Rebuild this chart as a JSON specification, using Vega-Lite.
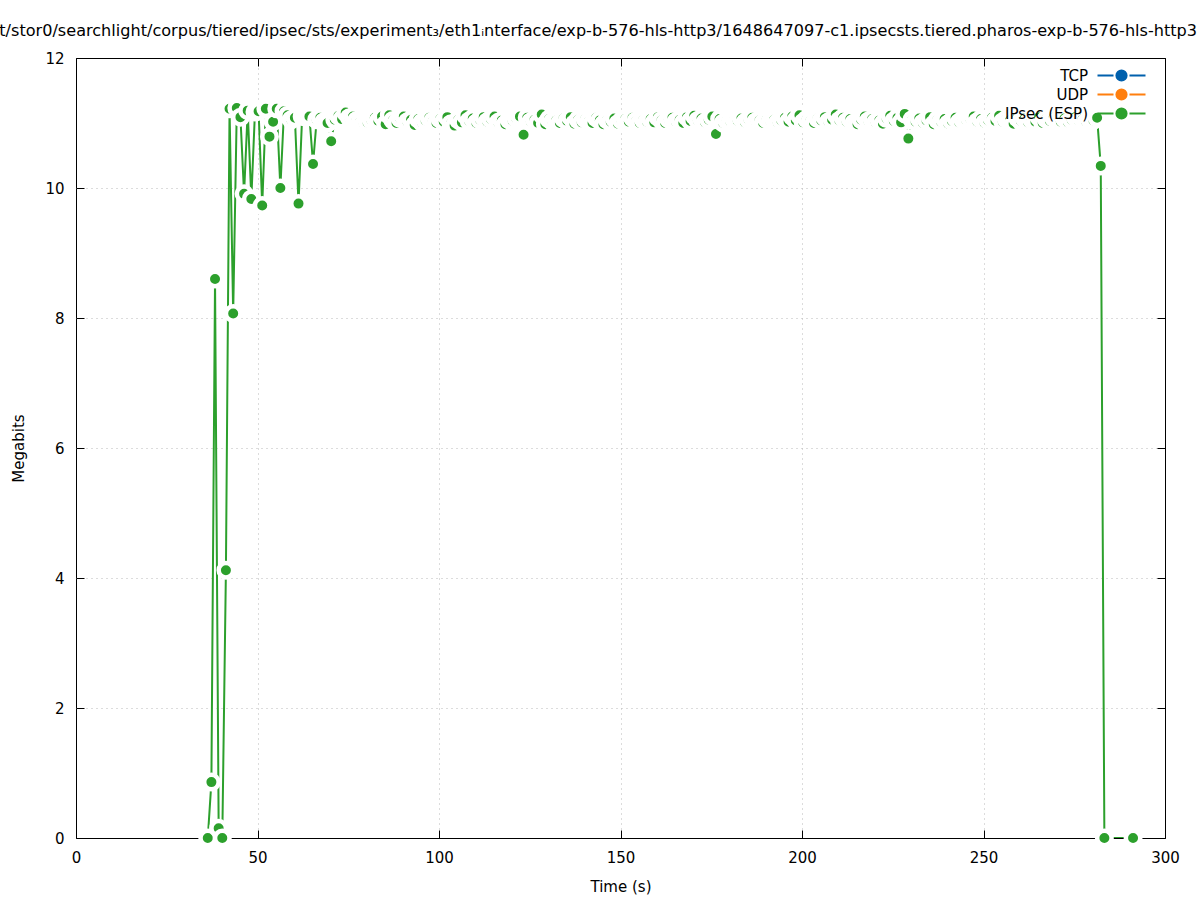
{
  "$schema": "https://vega.github.io/schema/vega-lite/v6.json",
  "width": 1089,
  "height": 780,
  "autosize": {"type": "none"},
  "padding": {"left": 76, "top": 58, "right": 32, "bottom": 62},
  "background": "white",
  "title": {
    "text": "/mnt/stor0/searchlight/corpus/tiered/ipsec/sts/experiment₃/eth1ᵢnterface/exp-b-576-hls-http3/1648647097-c1.ipsecsts.tiered.pharos-exp-b-576-hls-http3",
    "anchor": "start",
    "frame": "group",
    "dx": -108,
    "offset": 12,
    "fontSize": 16.1,
    "fontWeight": "normal",
    "font": "DejaVu Sans",
    "color": "black",
    "limit": 0
  },
  "config": {
    "font": "DejaVu Sans",
    "view": {"stroke": "black", "strokeWidth": 1},
    "axis": {
      "labelFont": "DejaVu Sans",
      "labelFontSize": 15,
      "labelColor": "black",
      "titleFont": "DejaVu Sans",
      "titleFontSize": 15,
      "titleFontWeight": "normal",
      "titleColor": "black",
      "domain": false,
      "tickColor": "black",
      "tickSize": -8,
      "tickWidth": 1,
      "gridColor": "#b8b8b8",
      "gridDash": [1, 4],
      "gridWidth": 1
    },
    "legend": {
      "orient": "none",
      "legendX": 1038,
      "legendY": 10,
      "padding": 0,
      "labelFont": "DejaVu Sans",
      "labelFontSize": 15,
      "labelColor": "black",
      "labelAlign": "right",
      "labelOffset": -41,
      "symbolSize": 144,
      "symbolStrokeWidth": 2,
      "rowPadding": 0,
      "symbolType": "M-4,0H-1.33M1.33,0H4M-0.85,0A0.85,0.85 0 1,0 0.85,0A0.85,0.85 0 1,0 -0.85,0Z"
    }
  },
  "data": {
    "values": [
      {"t": 36.3, "mbit": 0, "proto": "IPsec (ESP)"},
      {"t": 37.3, "mbit": 0.86, "proto": "IPsec (ESP)"},
      {"t": 38.3, "mbit": 8.6, "proto": "IPsec (ESP)"},
      {"t": 39.3, "mbit": 0.15, "proto": "IPsec (ESP)"},
      {"t": 40.3, "mbit": 0, "proto": "IPsec (ESP)"},
      {"t": 41.3, "mbit": 4.12, "proto": "IPsec (ESP)"},
      {"t": 42.3, "mbit": 11.22, "proto": "IPsec (ESP)"},
      {"t": 43.3, "mbit": 8.07, "proto": "IPsec (ESP)"},
      {"t": 44.3, "mbit": 11.23, "proto": "IPsec (ESP)"},
      {"t": 45.3, "mbit": 11.09, "proto": "IPsec (ESP)"},
      {"t": 46.3, "mbit": 9.91, "proto": "IPsec (ESP)"},
      {"t": 47.3, "mbit": 11.19, "proto": "IPsec (ESP)"},
      {"t": 48.3, "mbit": 9.83, "proto": "IPsec (ESP)"},
      {"t": 49.3, "mbit": 11.17, "proto": "IPsec (ESP)"},
      {"t": 50.3, "mbit": 11.18, "proto": "IPsec (ESP)"},
      {"t": 51.3, "mbit": 9.73, "proto": "IPsec (ESP)"},
      {"t": 52.3, "mbit": 11.22, "proto": "IPsec (ESP)"},
      {"t": 53.3, "mbit": 10.79, "proto": "IPsec (ESP)"},
      {"t": 54.3, "mbit": 11.02, "proto": "IPsec (ESP)"},
      {"t": 55.3, "mbit": 11.22, "proto": "IPsec (ESP)"},
      {"t": 56.3, "mbit": 10.0, "proto": "IPsec (ESP)"},
      {"t": 57.3, "mbit": 11.18, "proto": "IPsec (ESP)"},
      {"t": 58.3, "mbit": 11.12, "proto": "IPsec (ESP)"},
      {"t": 59.3, "mbit": 11.05, "proto": "IPsec (ESP)"},
      {"t": 60.3, "mbit": 11.08, "proto": "IPsec (ESP)"},
      {"t": 61.3, "mbit": 9.76, "proto": "IPsec (ESP)"},
      {"t": 62.3, "mbit": 11.1, "proto": "IPsec (ESP)"},
      {"t": 63.3, "mbit": 11.09, "proto": "IPsec (ESP)"},
      {"t": 64.3, "mbit": 11.1, "proto": "IPsec (ESP)"},
      {"t": 65.3, "mbit": 10.37, "proto": "IPsec (ESP)"},
      {"t": 66.3, "mbit": 11.05, "proto": "IPsec (ESP)"},
      {"t": 67.3, "mbit": 11.08, "proto": "IPsec (ESP)"},
      {"t": 68.3, "mbit": 11.02, "proto": "IPsec (ESP)"},
      {"t": 69.3, "mbit": 11.0, "proto": "IPsec (ESP)"},
      {"t": 70.3, "mbit": 10.72, "proto": "IPsec (ESP)"},
      {"t": 71.3, "mbit": 11.05, "proto": "IPsec (ESP)"},
      {"t": 72.3, "mbit": 11.11, "proto": "IPsec (ESP)"},
      {"t": 73.3, "mbit": 11.06, "proto": "IPsec (ESP)"},
      {"t": 74.3, "mbit": 11.16, "proto": "IPsec (ESP)"},
      {"t": 75.3, "mbit": 11.08, "proto": "IPsec (ESP)"},
      {"t": 76.3, "mbit": 11.1, "proto": "IPsec (ESP)"},
      {"t": 77.3, "mbit": 11.04, "proto": "IPsec (ESP)"},
      {"t": 78.3, "mbit": 11.02, "proto": "IPsec (ESP)"},
      {"t": 79.3, "mbit": 10.99, "proto": "IPsec (ESP)"},
      {"t": 80.3, "mbit": 11.01, "proto": "IPsec (ESP)"},
      {"t": 81.3, "mbit": 11.05, "proto": "IPsec (ESP)"},
      {"t": 82.3, "mbit": 11.08, "proto": "IPsec (ESP)"},
      {"t": 83.3, "mbit": 11.03, "proto": "IPsec (ESP)"},
      {"t": 84.3, "mbit": 11.1, "proto": "IPsec (ESP)"},
      {"t": 85.3, "mbit": 10.98, "proto": "IPsec (ESP)"},
      {"t": 86.3, "mbit": 11.12, "proto": "IPsec (ESP)"},
      {"t": 87.3, "mbit": 11.04, "proto": "IPsec (ESP)"},
      {"t": 88.3, "mbit": 11.0, "proto": "IPsec (ESP)"},
      {"t": 89.3, "mbit": 11.07, "proto": "IPsec (ESP)"},
      {"t": 90.3, "mbit": 11.1, "proto": "IPsec (ESP)"},
      {"t": 91.3, "mbit": 11.02, "proto": "IPsec (ESP)"},
      {"t": 92.3, "mbit": 11.05, "proto": "IPsec (ESP)"},
      {"t": 93.3, "mbit": 10.97, "proto": "IPsec (ESP)"},
      {"t": 94.3, "mbit": 11.06, "proto": "IPsec (ESP)"},
      {"t": 95.3, "mbit": 11.01, "proto": "IPsec (ESP)"},
      {"t": 96.3, "mbit": 11.04, "proto": "IPsec (ESP)"},
      {"t": 97.3, "mbit": 11.08, "proto": "IPsec (ESP)"},
      {"t": 98.3, "mbit": 11.03, "proto": "IPsec (ESP)"},
      {"t": 99.3, "mbit": 11.0, "proto": "IPsec (ESP)"},
      {"t": 100.3, "mbit": 11.06, "proto": "IPsec (ESP)"},
      {"t": 101.3, "mbit": 11.02, "proto": "IPsec (ESP)"},
      {"t": 102.3, "mbit": 11.09, "proto": "IPsec (ESP)"},
      {"t": 103.3, "mbit": 10.99, "proto": "IPsec (ESP)"},
      {"t": 104.3, "mbit": 10.96, "proto": "IPsec (ESP)"},
      {"t": 105.3, "mbit": 11.05, "proto": "IPsec (ESP)"},
      {"t": 106.3, "mbit": 11.01, "proto": "IPsec (ESP)"},
      {"t": 107.3, "mbit": 11.12, "proto": "IPsec (ESP)"},
      {"t": 108.3, "mbit": 11.03, "proto": "IPsec (ESP)"},
      {"t": 109.3, "mbit": 11.07, "proto": "IPsec (ESP)"},
      {"t": 110.3, "mbit": 11.0, "proto": "IPsec (ESP)"},
      {"t": 111.3, "mbit": 11.05, "proto": "IPsec (ESP)"},
      {"t": 112.3, "mbit": 11.09, "proto": "IPsec (ESP)"},
      {"t": 113.3, "mbit": 11.02, "proto": "IPsec (ESP)"},
      {"t": 114.3, "mbit": 11.06, "proto": "IPsec (ESP)"},
      {"t": 115.3, "mbit": 11.1, "proto": "IPsec (ESP)"},
      {"t": 116.3, "mbit": 11.01, "proto": "IPsec (ESP)"},
      {"t": 117.3, "mbit": 11.04, "proto": "IPsec (ESP)"},
      {"t": 118.3, "mbit": 10.98, "proto": "IPsec (ESP)"},
      {"t": 119.3, "mbit": 11.05, "proto": "IPsec (ESP)"},
      {"t": 120.3, "mbit": 11.03, "proto": "IPsec (ESP)"},
      {"t": 121.3, "mbit": 11.07, "proto": "IPsec (ESP)"},
      {"t": 122.3, "mbit": 11.1, "proto": "IPsec (ESP)"},
      {"t": 123.3, "mbit": 10.82, "proto": "IPsec (ESP)"},
      {"t": 124.3, "mbit": 11.08, "proto": "IPsec (ESP)"},
      {"t": 125.3, "mbit": 11.02, "proto": "IPsec (ESP)"},
      {"t": 126.3, "mbit": 11.05, "proto": "IPsec (ESP)"},
      {"t": 127.3, "mbit": 11.0, "proto": "IPsec (ESP)"},
      {"t": 128.3, "mbit": 11.13, "proto": "IPsec (ESP)"},
      {"t": 129.3, "mbit": 10.98, "proto": "IPsec (ESP)"},
      {"t": 130.3, "mbit": 11.06, "proto": "IPsec (ESP)"},
      {"t": 131.3, "mbit": 11.02, "proto": "IPsec (ESP)"},
      {"t": 132.3, "mbit": 11.04, "proto": "IPsec (ESP)"},
      {"t": 133.3, "mbit": 11.0, "proto": "IPsec (ESP)"},
      {"t": 134.3, "mbit": 11.07, "proto": "IPsec (ESP)"},
      {"t": 135.3, "mbit": 11.03, "proto": "IPsec (ESP)"},
      {"t": 136.3, "mbit": 11.09, "proto": "IPsec (ESP)"},
      {"t": 137.3, "mbit": 10.99, "proto": "IPsec (ESP)"},
      {"t": 138.3, "mbit": 11.05, "proto": "IPsec (ESP)"},
      {"t": 139.3, "mbit": 11.01, "proto": "IPsec (ESP)"},
      {"t": 140.3, "mbit": 11.06, "proto": "IPsec (ESP)"},
      {"t": 141.3, "mbit": 11.03, "proto": "IPsec (ESP)"},
      {"t": 142.3, "mbit": 11.0, "proto": "IPsec (ESP)"},
      {"t": 143.3, "mbit": 11.08, "proto": "IPsec (ESP)"},
      {"t": 144.3, "mbit": 11.04, "proto": "IPsec (ESP)"},
      {"t": 145.3, "mbit": 10.98, "proto": "IPsec (ESP)"},
      {"t": 146.3, "mbit": 11.05, "proto": "IPsec (ESP)"},
      {"t": 147.3, "mbit": 11.02, "proto": "IPsec (ESP)"},
      {"t": 148.3, "mbit": 11.07, "proto": "IPsec (ESP)"},
      {"t": 149.3, "mbit": 10.99, "proto": "IPsec (ESP)"},
      {"t": 150.3, "mbit": 11.04, "proto": "IPsec (ESP)"},
      {"t": 151.3, "mbit": 11.06, "proto": "IPsec (ESP)"},
      {"t": 152.3, "mbit": 11.02, "proto": "IPsec (ESP)"},
      {"t": 153.3, "mbit": 11.08, "proto": "IPsec (ESP)"},
      {"t": 154.3, "mbit": 11.03, "proto": "IPsec (ESP)"},
      {"t": 155.3, "mbit": 11.0, "proto": "IPsec (ESP)"},
      {"t": 156.3, "mbit": 11.05, "proto": "IPsec (ESP)"},
      {"t": 157.3, "mbit": 11.02, "proto": "IPsec (ESP)"},
      {"t": 158.3, "mbit": 11.06, "proto": "IPsec (ESP)"},
      {"t": 159.3, "mbit": 11.01, "proto": "IPsec (ESP)"},
      {"t": 160.3, "mbit": 11.09, "proto": "IPsec (ESP)"},
      {"t": 161.3, "mbit": 11.04, "proto": "IPsec (ESP)"},
      {"t": 162.3, "mbit": 11.0, "proto": "IPsec (ESP)"},
      {"t": 163.3, "mbit": 11.06, "proto": "IPsec (ESP)"},
      {"t": 164.3, "mbit": 11.08, "proto": "IPsec (ESP)"},
      {"t": 165.3, "mbit": 11.02, "proto": "IPsec (ESP)"},
      {"t": 166.3, "mbit": 11.05, "proto": "IPsec (ESP)"},
      {"t": 167.3, "mbit": 11.0, "proto": "IPsec (ESP)"},
      {"t": 168.3, "mbit": 11.09, "proto": "IPsec (ESP)"},
      {"t": 169.3, "mbit": 11.03, "proto": "IPsec (ESP)"},
      {"t": 170.3, "mbit": 11.11, "proto": "IPsec (ESP)"},
      {"t": 171.3, "mbit": 11.04, "proto": "IPsec (ESP)"},
      {"t": 172.3, "mbit": 11.07, "proto": "IPsec (ESP)"},
      {"t": 173.3, "mbit": 11.01, "proto": "IPsec (ESP)"},
      {"t": 174.3, "mbit": 11.05, "proto": "IPsec (ESP)"},
      {"t": 175.3, "mbit": 11.1, "proto": "IPsec (ESP)"},
      {"t": 176.3, "mbit": 10.83, "proto": "IPsec (ESP)"},
      {"t": 177.3, "mbit": 11.06, "proto": "IPsec (ESP)"},
      {"t": 178.3, "mbit": 11.0, "proto": "IPsec (ESP)"},
      {"t": 179.3, "mbit": 11.04, "proto": "IPsec (ESP)"},
      {"t": 180.3, "mbit": 11.02, "proto": "IPsec (ESP)"},
      {"t": 181.3, "mbit": 11.05, "proto": "IPsec (ESP)"},
      {"t": 182.3, "mbit": 11.03, "proto": "IPsec (ESP)"},
      {"t": 183.3, "mbit": 11.07, "proto": "IPsec (ESP)"},
      {"t": 184.3, "mbit": 11.01, "proto": "IPsec (ESP)"},
      {"t": 185.3, "mbit": 11.05, "proto": "IPsec (ESP)"},
      {"t": 186.3, "mbit": 11.08, "proto": "IPsec (ESP)"},
      {"t": 187.3, "mbit": 11.02, "proto": "IPsec (ESP)"},
      {"t": 188.3, "mbit": 11.04, "proto": "IPsec (ESP)"},
      {"t": 189.3, "mbit": 11.0, "proto": "IPsec (ESP)"},
      {"t": 190.3, "mbit": 11.06, "proto": "IPsec (ESP)"},
      {"t": 191.3, "mbit": 11.03, "proto": "IPsec (ESP)"},
      {"t": 192.3, "mbit": 11.05, "proto": "IPsec (ESP)"},
      {"t": 193.3, "mbit": 11.01, "proto": "IPsec (ESP)"},
      {"t": 194.3, "mbit": 11.04, "proto": "IPsec (ESP)"},
      {"t": 195.3, "mbit": 11.08, "proto": "IPsec (ESP)"},
      {"t": 196.3, "mbit": 11.02, "proto": "IPsec (ESP)"},
      {"t": 197.3, "mbit": 11.1, "proto": "IPsec (ESP)"},
      {"t": 198.3, "mbit": 11.04, "proto": "IPsec (ESP)"},
      {"t": 199.3, "mbit": 11.12, "proto": "IPsec (ESP)"},
      {"t": 200.3, "mbit": 11.01, "proto": "IPsec (ESP)"},
      {"t": 201.3, "mbit": 11.06, "proto": "IPsec (ESP)"},
      {"t": 202.3, "mbit": 11.03, "proto": "IPsec (ESP)"},
      {"t": 203.3, "mbit": 11.0, "proto": "IPsec (ESP)"},
      {"t": 204.3, "mbit": 11.07, "proto": "IPsec (ESP)"},
      {"t": 205.3, "mbit": 11.04, "proto": "IPsec (ESP)"},
      {"t": 206.3, "mbit": 11.09, "proto": "IPsec (ESP)"},
      {"t": 207.3, "mbit": 11.02, "proto": "IPsec (ESP)"},
      {"t": 208.3, "mbit": 11.05, "proto": "IPsec (ESP)"},
      {"t": 209.3, "mbit": 11.13, "proto": "IPsec (ESP)"},
      {"t": 210.3, "mbit": 11.04, "proto": "IPsec (ESP)"},
      {"t": 211.3, "mbit": 11.08, "proto": "IPsec (ESP)"},
      {"t": 212.3, "mbit": 11.02, "proto": "IPsec (ESP)"},
      {"t": 213.3, "mbit": 11.06, "proto": "IPsec (ESP)"},
      {"t": 214.3, "mbit": 11.0, "proto": "IPsec (ESP)"},
      {"t": 215.3, "mbit": 10.98, "proto": "IPsec (ESP)"},
      {"t": 216.3, "mbit": 11.05, "proto": "IPsec (ESP)"},
      {"t": 217.3, "mbit": 11.1, "proto": "IPsec (ESP)"},
      {"t": 218.3, "mbit": 11.03, "proto": "IPsec (ESP)"},
      {"t": 219.3, "mbit": 11.06, "proto": "IPsec (ESP)"},
      {"t": 220.3, "mbit": 11.01, "proto": "IPsec (ESP)"},
      {"t": 221.3, "mbit": 11.04, "proto": "IPsec (ESP)"},
      {"t": 222.3, "mbit": 10.99, "proto": "IPsec (ESP)"},
      {"t": 223.3, "mbit": 11.07, "proto": "IPsec (ESP)"},
      {"t": 224.3, "mbit": 11.11, "proto": "IPsec (ESP)"},
      {"t": 225.3, "mbit": 11.03, "proto": "IPsec (ESP)"},
      {"t": 226.3, "mbit": 11.08, "proto": "IPsec (ESP)"},
      {"t": 227.3, "mbit": 11.01, "proto": "IPsec (ESP)"},
      {"t": 228.3, "mbit": 11.14, "proto": "IPsec (ESP)"},
      {"t": 229.3, "mbit": 10.76, "proto": "IPsec (ESP)"},
      {"t": 230.3, "mbit": 11.05, "proto": "IPsec (ESP)"},
      {"t": 231.3, "mbit": 11.02, "proto": "IPsec (ESP)"},
      {"t": 232.3, "mbit": 11.07, "proto": "IPsec (ESP)"},
      {"t": 233.3, "mbit": 11.0, "proto": "IPsec (ESP)"},
      {"t": 234.3, "mbit": 11.04, "proto": "IPsec (ESP)"},
      {"t": 235.3, "mbit": 11.09, "proto": "IPsec (ESP)"},
      {"t": 236.3, "mbit": 10.98, "proto": "IPsec (ESP)"},
      {"t": 237.3, "mbit": 11.05, "proto": "IPsec (ESP)"},
      {"t": 238.3, "mbit": 11.02, "proto": "IPsec (ESP)"},
      {"t": 239.3, "mbit": 11.06, "proto": "IPsec (ESP)"},
      {"t": 240.3, "mbit": 10.99, "proto": "IPsec (ESP)"},
      {"t": 241.3, "mbit": 11.03, "proto": "IPsec (ESP)"},
      {"t": 242.3, "mbit": 11.08, "proto": "IPsec (ESP)"},
      {"t": 243.3, "mbit": 11.01, "proto": "IPsec (ESP)"},
      {"t": 244.3, "mbit": 11.05, "proto": "IPsec (ESP)"},
      {"t": 245.3, "mbit": 11.04, "proto": "IPsec (ESP)"},
      {"t": 246.3, "mbit": 11.07, "proto": "IPsec (ESP)"},
      {"t": 247.3, "mbit": 11.1, "proto": "IPsec (ESP)"},
      {"t": 248.3, "mbit": 11.02, "proto": "IPsec (ESP)"},
      {"t": 249.3, "mbit": 11.06, "proto": "IPsec (ESP)"},
      {"t": 250.3, "mbit": 11.0, "proto": "IPsec (ESP)"},
      {"t": 251.3, "mbit": 11.04, "proto": "IPsec (ESP)"},
      {"t": 252.3, "mbit": 11.08, "proto": "IPsec (ESP)"},
      {"t": 253.3, "mbit": 11.03, "proto": "IPsec (ESP)"},
      {"t": 254.3, "mbit": 11.11, "proto": "IPsec (ESP)"},
      {"t": 255.3, "mbit": 11.02, "proto": "IPsec (ESP)"},
      {"t": 256.3, "mbit": 11.06, "proto": "IPsec (ESP)"},
      {"t": 257.3, "mbit": 11.04, "proto": "IPsec (ESP)"},
      {"t": 258.3, "mbit": 10.99, "proto": "IPsec (ESP)"},
      {"t": 259.3, "mbit": 11.08, "proto": "IPsec (ESP)"},
      {"t": 260.3, "mbit": 11.03, "proto": "IPsec (ESP)"},
      {"t": 261.3, "mbit": 11.07, "proto": "IPsec (ESP)"},
      {"t": 262.3, "mbit": 11.01, "proto": "IPsec (ESP)"},
      {"t": 263.3, "mbit": 11.05, "proto": "IPsec (ESP)"},
      {"t": 264.3, "mbit": 11.02, "proto": "IPsec (ESP)"},
      {"t": 265.3, "mbit": 11.09, "proto": "IPsec (ESP)"},
      {"t": 266.3, "mbit": 11.0, "proto": "IPsec (ESP)"},
      {"t": 267.3, "mbit": 11.06, "proto": "IPsec (ESP)"},
      {"t": 268.3, "mbit": 11.03, "proto": "IPsec (ESP)"},
      {"t": 269.3, "mbit": 11.08, "proto": "IPsec (ESP)"},
      {"t": 270.3, "mbit": 11.04, "proto": "IPsec (ESP)"},
      {"t": 271.3, "mbit": 11.02, "proto": "IPsec (ESP)"},
      {"t": 272.3, "mbit": 11.07, "proto": "IPsec (ESP)"},
      {"t": 273.3, "mbit": 11.01, "proto": "IPsec (ESP)"},
      {"t": 274.3, "mbit": 11.05, "proto": "IPsec (ESP)"},
      {"t": 275.3, "mbit": 11.09, "proto": "IPsec (ESP)"},
      {"t": 276.3, "mbit": 11.03, "proto": "IPsec (ESP)"},
      {"t": 277.3, "mbit": 11.06, "proto": "IPsec (ESP)"},
      {"t": 278.3, "mbit": 11.02, "proto": "IPsec (ESP)"},
      {"t": 279.3, "mbit": 11.05, "proto": "IPsec (ESP)"},
      {"t": 280.3, "mbit": 11.04, "proto": "IPsec (ESP)"},
      {"t": 281.3, "mbit": 11.08, "proto": "IPsec (ESP)"},
      {"t": 282.3, "mbit": 10.34, "proto": "IPsec (ESP)"},
      {"t": 283.3, "mbit": 0, "proto": "IPsec (ESP)"},
      {"t": 291.2, "mbit": 0, "proto": "IPsec (ESP)"}
    ]
  },
  "layer": [
    {
      "mark": {"type": "line", "strokeWidth": 2, "clip": true},
      "encoding": {
        "x": {"field": "t", "type": "quantitative", "scale": {"domain": [0, 300], "nice": false}, "axis": {"title": "Time (s)", "values": [0, 50, 100, 150, 200, 250, 300], "grid": true, "gridOpacity": {"condition": {"test": "datum.value == 0 || datum.value == 300", "value": 0}, "value": 1}, "labelPadding": 20, "titlePadding": 14, "labelFlush": false}},
        "y": {"field": "mbit", "type": "quantitative", "scale": {"domain": [0, 12], "nice": false}, "axis": {"title": "Megabits", "values": [0, 2, 4, 6, 8, 10, 12], "grid": true, "gridOpacity": {"condition": {"test": "datum.value == 0 || datum.value == 12", "value": 0}, "value": 1}, "labelPadding": 20, "titlePadding": 18, "labelFlush": false}},
        "color": {
          "field": "proto",
          "type": "nominal",
          "scale": {"domain": ["TCP", "UDP", "IPsec (ESP)"], "range": ["#0060ad", "#ff7f0e", "#2ca02c"]},
          "legend": {
            "title": null,
            "encode": {"symbols": {"update": {"fill": {"scale": "color", "field": "value"}, "opacity": {"value": 1}}}}
          }
        }
      }
    },
    {
      "mark": {"type": "point", "shape": "circle", "filled": true, "fill": "#2ca02c", "stroke": "white", "strokeWidth": 4.5, "size": 210, "opacity": 1, "strokeOpacity": 1},
      "encoding": {
        "x": {"field": "t", "type": "quantitative", "axis": {"orient": "top", "title": null, "labels": false, "grid": false, "values": [0, 50, 100, 150, 200, 250, 300]}},
        "y": {"field": "mbit", "type": "quantitative", "axis": {"orient": "right", "title": null, "labels": false, "grid": false, "values": [0, 2, 4, 6, 8, 10, 12]}}
      }
    }
  ],
  "resolve": {"axis": {"x": "independent", "y": "independent"}}
}
